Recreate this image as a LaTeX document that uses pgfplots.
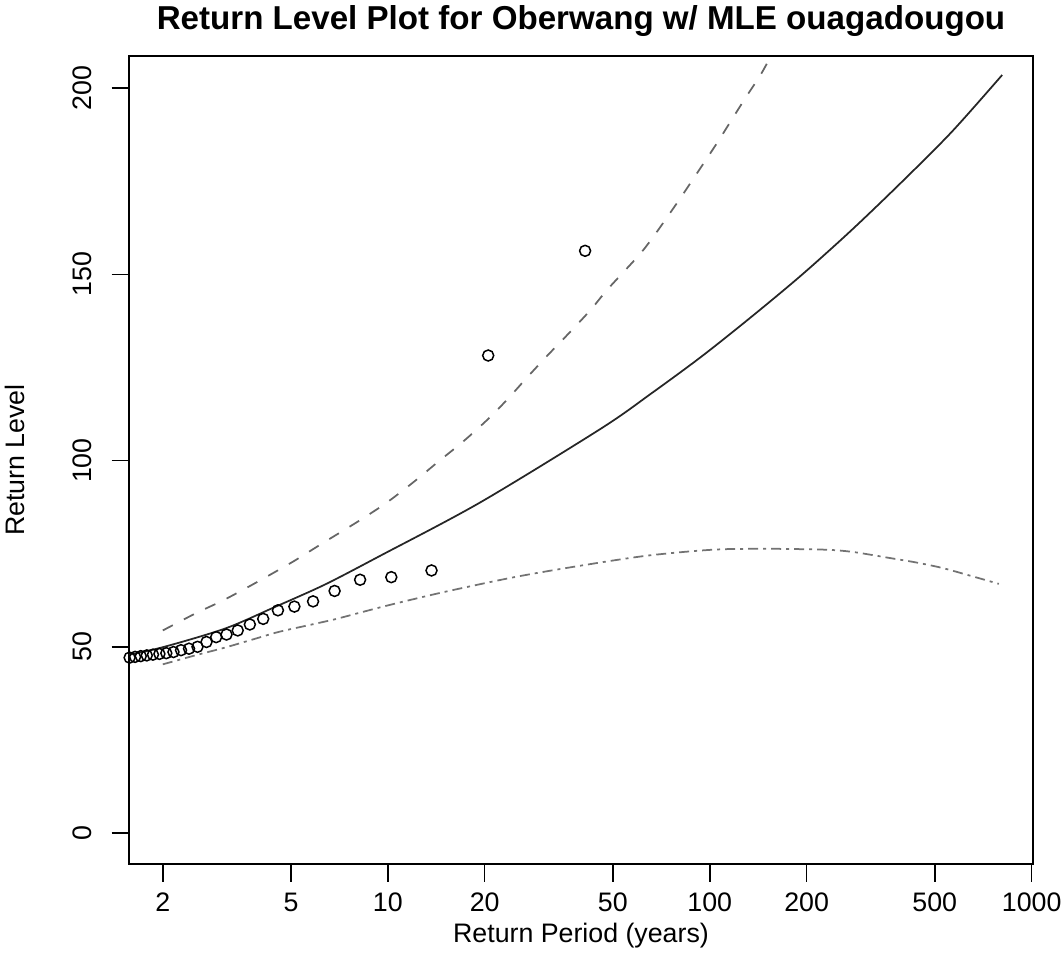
\documentclass[border=0pt]{standalone}
\usepackage{fontspec}
\setmainfont{Liberation Sans}
\usepackage{pgfplots}
\usepackage{pgfplotstable}
\pgfplotsset{compat=1.18}

\pgfplotstableread{
T y
41 156.3
20.5 128.2
13.667 70.5
10.25 68.7
8.2 68.0
6.833 65.0
5.857 62.2
5.125 60.8
4.556 59.8
4.1 57.5
3.727 56.0
3.417 54.4
3.154 53.3
2.929 52.6
2.733 51.3
2.5625 50.0
2.412 49.5
2.278 49.1
2.158 48.6
2.05 48.3
1.952 48.1
1.864 47.9
1.783 47.7
1.708 47.5
1.64 47.3
1.577 47.1
}\ptsdata

\pgfplotstableread{
T y
1.50 47.5
2.0 49.9
3.12 54.9
4.46 60.7
6.37 66.7
9.5 74.5
19.4 88.8
45.97 108.6
65.8 118.0
94.2 127.9
134.8 138.6
192.9 149.8
276.1 161.9
395.2 174.8
565.6 188.3
809.8 203.5
}\fitdata

\pgfplotstableread{
T y
2.0 54.4
2.518 58.9
3.05 62.3
3.6 65.6
4.36 69.6
5.15 73.2
6.24 77.7
8.2 84.0
9.95 88.8
12.05 94.3
14.25 99.5
17.24 105.3
20.4 111.0
23.5 116.4
27.2 122.5
31.4 128.3
37.1 134.8
42.8 140.6
48.2 146.0
59.8 154.8
65.8 159.3
73.3 165.0
82.6 171.5
94.2 178.9
106.2 185.7
116.8 191.4
130.1 197.8
144.9 204.0
165 213.0
}\upcidata

\pgfplotstableread{
T y
2.0 45.3
2.52 47.7
3.12 49.8
3.78 51.9
4.58 54.0
5.67 55.8
6.85 57.4
8.3 59.3
10.2 61.3
14.93 64.7
24.7 68.7
39.8 71.8
64.3 74.5
103.6 76.1
152 76.3
197 76.2
239 76.0
282 75.4
359 73.9
434 72.7
526 71.2
638 69.2
791 66.9
}\lowcidata

\begin{document}
\begin{tikzpicture}
\useasboundingbox (-51.6pt,-37.2pt) rectangle (373.6pt,345.6pt);
\begin{axis}[
  at={(0,0)}, anchor=south west,
  scale only axis,
  width=361.6pt, height=323.2pt,
  xmode=log,
  xmin=1.570, xmax=1009.7,
  ymin=-8.3, ymax=208.6,
  xtick={2,5,10,20,50,100,200,500,1000},
  xticklabels={2,5,10,20,50,100,200,500,1000},
  minor xtick={},
  ytick={0,50,100,150,200},
  tick align=outside,
  xtick pos=bottom, ytick pos=left,
  major tick length=7pt,
  tick style={black, line width=0.6pt},
  axis line style={black, line width=0.7pt},
  /pgf/number format/assume math mode=true,
  tick label style={font=\fontsize{10.7}{12}\selectfont, inner sep=0pt},
  xticklabel style={anchor=base, yshift=-12pt},
  yticklabel style={rotate=90, anchor=base, yshift=8pt},
  clip=true,
]
\addplot[black!85, line width=0.7pt, smooth] table[x=T,y=y] {\fitdata};
\addplot[black!60, line width=0.7pt, dash pattern=on 4.5pt off 5pt, smooth] table[x=T,y=y] {\upcidata};
\addplot[black!55, line width=0.7pt, dash pattern=on 4pt off 2pt on 1.2pt off 2pt, smooth] table[x=T,y=y] {\lowcidata};
\addplot[only marks, mark=o, mark size=2.2pt, mark options={black, line width=0.6pt}] table[x=T,y=y] {\ptsdata};
\end{axis}
\node[anchor=base, font=\bfseries\fontsize{13.25}{15}\selectfont] at (180.8pt,333.6pt) {Return Level Plot for Oberwang w/ MLE ouagadougou};
\node[anchor=base, font=\fontsize{10.7}{12}\selectfont] at (180.8pt,-31.5pt) {Return Period (years)};
\node[anchor=base, rotate=90, font=\fontsize{10.7}{12}\selectfont] at (-41.6pt,161.6pt) {Return Level};
\end{tikzpicture}
\end{document}
